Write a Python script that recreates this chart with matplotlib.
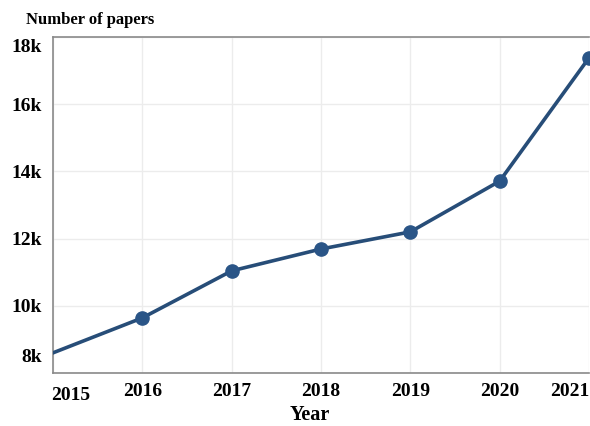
import matplotlib
matplotlib.use("Agg")
import matplotlib.pyplot as plt
from matplotlib.transforms import blended_transform_factory, offset_copy

years = [2015, 2016, 2017, 2018, 2019, 2020, 2021]
papers_k = [8.60, 9.64, 11.04, 11.69, 12.20, 13.71, 17.38]
ytick_vals = [8, 10, 12, 14, 16, 18]
ytick_labels = ["8k", "10k", "12k", "14k", "16k", "18k"]
xtick_labels = ["2015", "2016", "2017", "2018", "2019", "2020", "2021"]

plt.rcParams['font.family'] = ['Liberation Serif', 'DejaVu Serif']

fig = plt.figure(figsize=(5.9, 4.26), dpi=100)
ax = fig.add_axes([53/590, 1 - 373/426, (589 - 53)/590, (373 - 37)/426])

color = "#274d78"
ax.plot(years, papers_k, color=color, linewidth=2.6, zorder=3)
ax.plot(years[1:], papers_k[1:], linestyle="none", marker="o", markersize=9.5,
        color="#2a5587", zorder=4, clip_on=False)

ax.set_xlim(2015, 2021)
ax.set_ylim(8, 18)

ax.set_xticks(years)
ax.set_yticks(ytick_vals)
ax.set_xticklabels([])
ax.set_yticklabels([])
ax.tick_params(axis="both", length=0)

# tick labels drawn as text; edge labels nudged inward as in the original
ytrans = blended_transform_factory(ax.transAxes, ax.transData)
for i, (v, lab) in enumerate(zip(ytick_vals, ytick_labels)):
    dy = -2
    if i == 0:
        dy = 15
    elif i == len(ytick_vals) - 1:
        dy = -11
    t = offset_copy(ytrans, fig=fig, x=-11, y=dy, units="dots")
    ax.text(0, v, lab, transform=t, ha="right", va="center",
            fontsize=14, fontweight="bold")

xtrans = blended_transform_factory(ax.transData, ax.transAxes)
for i, (v, lab) in enumerate(zip(years, xtick_labels)):
    dx, dy = 0, -19
    if i == 0:
        dx, dy = 18, -23
    elif i == len(years) - 1:
        dx = -19
    t = offset_copy(xtrans, fig=fig, x=dx, y=dy, units="dots")
    ax.text(v, 0, lab, transform=t, ha="center", va="center",
            fontsize=14, fontweight="bold")

ax.grid(True, color="#ececec", linewidth=1.0, zorder=0)
for side in ["left", "bottom", "top"]:
    ax.spines[side].set_color("#8a8a8a")
    ax.spines[side].set_linewidth(1.2)
ax.spines["right"].set_visible(False)

fig.text(310/590, 1 - 415/426, "Year", fontsize=14.5, fontweight="bold",
         ha="center", va="center")
fig.text(90/590, 1 - 20/426, "Number of papers", fontsize=12, fontweight="bold",
         ha="center", va="center")

fig.savefig("out.png", dpi=100)
